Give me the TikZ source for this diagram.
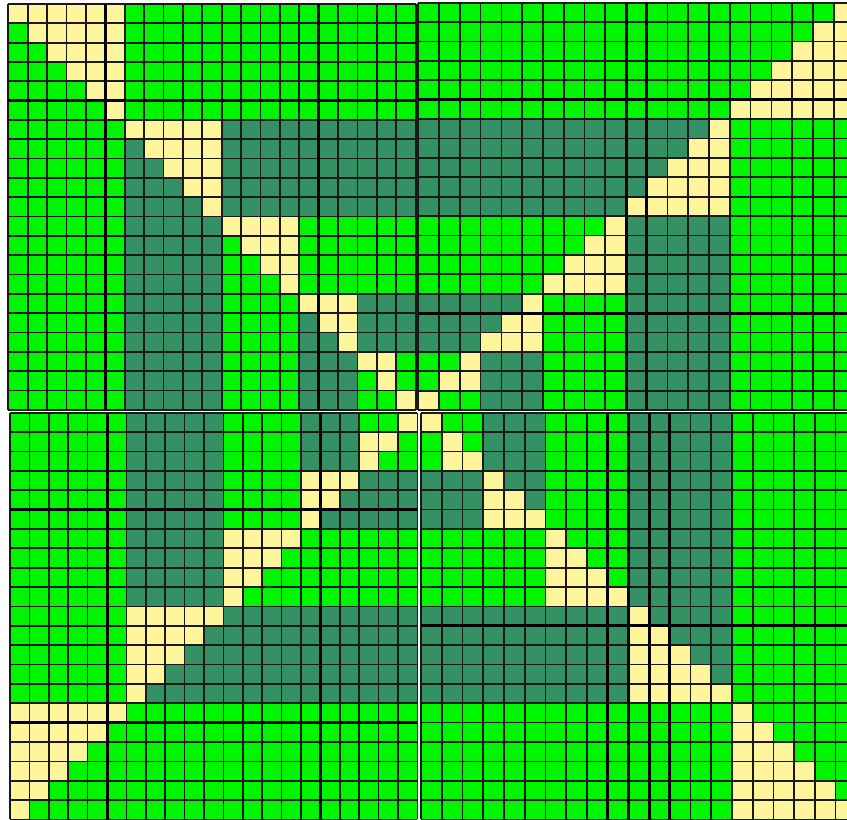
\documentclass[tikz,border=0pt]{standalone}
\definecolor{lg}{RGB}{0,245,0}
\definecolor{dg}{RGB}{52,145,100}
\definecolor{yl}{RGB}{255,245,155}
\newcount\bI \newcount\bJ
\newcommand\getblk[2]{%
 \ifnum#2<6 #1=0 \else\ifnum#2<11 #1=1 \else\ifnum#2<15 #1=2 \else
 \ifnum#2<18 #1=3 \else\ifnum#2<20 #1=4 \else #1=5 \fi\fi\fi\fi\fi}
\newcommand\cellcol[2]{\getblk\bI{#1}\getblk\bJ{#2}%
 \ifnum\bI=\bJ\relax
   \ifnum#2<#1\relax \ifodd\bI\relax\gdef\cc{dg}\else\gdef\cc{lg}\fi\else\gdef\cc{yl}\fi
 \else
   \ifnum\bJ<\bI\relax \bI=\bJ\relax\fi
   \ifodd\bI\relax\gdef\cc{dg}\else\gdef\cc{lg}\fi
 \fi}
\newcommand\drawquadrant[5]{%
 \foreach \r in {0,...,20}{\foreach \c in {0,...,20}{%
   \ifcase#5\relax \edef\ii{\r}\edef\jj{\c}%
   \or \pgfmathtruncatemacro\ii{20-\c}\edef\jj{\r}%
   \or \edef\ii{\c}\pgfmathtruncatemacro\jj{20-\r}%
   \or \pgfmathtruncatemacro\ii{20-\r}\pgfmathtruncatemacro\jj{20-\c}%
   \fi
   \cellcol{\ii}{\jj}%
   \fill[\cc] ({#1+\c*#3},{#2+\r*#4}) rectangle ++(#3,#4);
 }}%
 \foreach \k in {0,...,21}{%
   \draw[gl] ({#1+\k*#3},#2) -- ++(0,{21*#4});
   \draw[gl] (#1,{#2+\k*#4}) -- ++({21*#3},0);
 }}
\newcommand\thickv[5]{\foreach \k in {#5}{\draw[tl] ({#1+\k*#3},#2) -- ++(0,{21*#4});}}
\newcommand\thickh[5]{\foreach \k in {#5}{\draw[tl] (#1,{#2+\k*#4}) -- ++({21*#3},0);}}
\tikzset{gl/.style={line width=1.7pt,black!90},tl/.style={line width=3pt,black}}
\begin{document}
\begin{tikzpicture}[x=1pt,y=-1pt]
\useasboundingbox (0,0) rectangle (847,820);
\fill[white] (0,0) rectangle (847,820);
\begin{scope}
\clip (0,0) rectangle (847,820);
% top-left
\drawquadrant{8.3}{4}{19.4}{19.33}{0}
\thickv{8.3}{4}{19.4}{19.33}{5,16}
\thickh{8.3}{4}{19.4}{19.33}{5}
% top-right
\drawquadrant{418.3}{2.7}{20.77}{19.4}{1}
\thickv{418.3}{2.7}{20.77}{19.4}{10,11}
\thickh{418.3}{2.7}{20.77}{19.4}{5,16}
% bottom-left
\drawquadrant{10}{412.7}{19.4}{19.37}{2}
\thickv{10}{412.7}{19.4}{19.37}{5,16}
\thickh{10}{412.7}{19.4}{19.37}{5,16}
% bottom-right
\drawquadrant{421}{412.7}{20.73}{19.37}{3}
\thickv{421}{412.7}{20.73}{19.37}{9,10,11,12}
\thickh{421}{412.7}{20.73}{19.37}{11}
\end{scope}
\end{tikzpicture}
\end{document}
